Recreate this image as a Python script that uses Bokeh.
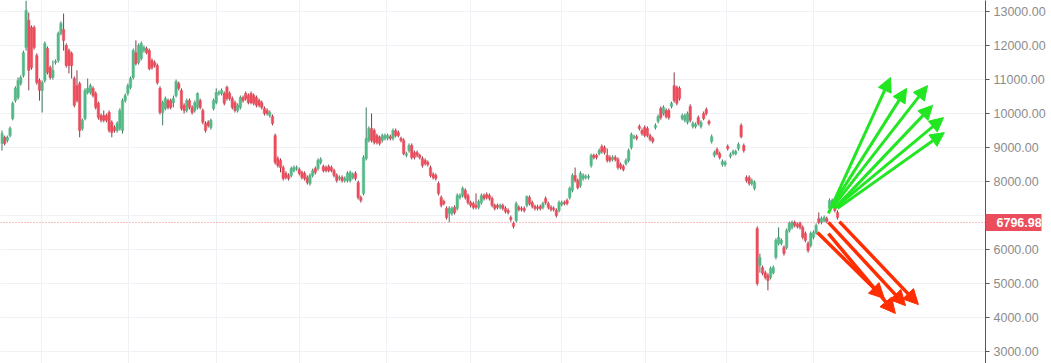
from bokeh.plotting import figure
from bokeh.models import (Range1d, LinearAxis, FixedTicker, NumeralTickFormatter, Grid,
                          Span, Arrow, NormalHead, ColumnDataSource, AllLabels)
from bokeh.embed import file_html
from bokeh.resources import INLINE

opens = [9120,9300,9210,9350,9850,10380,10470,10880,11120,11940,
12740,12530,12530,11710,10970,10680,10970,11910,11350,11060,
11500,11560,12350,12470,12000,11850,11770,11030,10820,10880,
9560,9850,10620,10620,10740,10590,10300,9940,9940,9940,
10030,9740,9590,9500,9560,9500,10380,10590,10770,11060,
11790,11500,11620,11850,11910,11850,11560,11500,11410,10740,
10030,10150,10380,10380,10320,10530,10880,10680,10240,10090,
10380,10180,10090,10180,10380,10090,9710,9740,9590,10150,
10320,10590,10590,10590,10770,10590,10440,10320,10090,10180,
10470,10590,10530,10590,10530,10470,10380,10320,10150,10090,
9940,9910,9350,8680,8620,8410,8240,8180,8180,8320,
8380,8350,8270,8240,8120,7940,8180,8380,8380,8560,
8440,8410,8440,8410,8320,8180,8090,8120,8030,8030,
8030,8120,8240,7970,7530,7650,8680,9210,9560,9500,
9350,9300,9210,9270,9270,9320,9270,9500,9440,9270,
9210,8770,8910,9060,8850,8850,8770,8680,8620,8560,
8410,8210,8180,7940,7530,7410,7210,7060,7060,7240,
7210,7530,7590,7740,7590,7380,7350,7300,7240,7380,
7590,7620,7590,7500,7300,7300,7240,7300,7210,7150,
6940,6770,6850,7240,7210,7210,7300,7530,7380,7270,
7240,7270,7240,7500,7350,7240,7210,7150,7150,7320,
7380,7440,7530,7740,8180,8030,7880,8090,8120,8120,
8470,8770,8770,8820,9030,9000,8770,8710,8650,8710,
8650,8500,8440,8530,8620,9000,9300,9320,9620,9500,
9590,9560,9350,9270,9590,9770,10150,10000,10090,10090,
10210,10820,10770,10740,9850,9800,9740,10210,9620,9620,
9880,9620,10000,10120,9770,9180,8770,8940,8820,8500,
8500,9030,8740,8820,8820,8970,9650,9060,8120,8120,
7940,7800,6620,5530,5470,5320,5240,5180,5320,5770,
6180,6180,6060,6060,6560,6650,6800,6740,6770,6650,
6470,6180,6120,6360,6500,6910,6800,6850,6910,7210,
7300,7300,7090]

highs = [9500,9350,9350,9620,10350,10800,11060,11120,11850,13320,
12970,12590,12590,11770,11030,10970,12120,11970,11410,11560,
11590,12410,12710,12940,12060,11910,11820,11090,11270,10940,
9850,10740,11030,10880,10800,10650,10350,10000,10090,10000,
10090,9800,9650,9770,10150,10440,10590,10880,11090,11910,
12150,12060,12120,12000,11970,11910,11620,11560,11470,10800,
10380,10500,10440,10440,10530,11000,10940,10740,10300,10440,
10440,10240,10380,10620,10440,10150,9770,9800,9850,10440,
10740,10680,10740,10650,10820,10650,10500,10380,10300,10530,
10530,10650,10590,10650,10590,10530,10440,10380,10210,10150,
10090,9970,9410,8740,8680,8470,8300,8240,8440,8470,
8470,8410,8320,8300,8180,8240,8380,8440,8680,8710,
8500,8470,8500,8470,8380,8240,8180,8180,8150,8300,
8320,8270,8300,8030,7590,8770,10180,9620,10000,9560,
9410,9350,9410,9410,9410,9380,9560,9560,9500,9320,
9270,8880,9120,9120,8910,8910,8820,8740,8680,8620,
8470,8270,8240,8000,7590,7470,7270,7270,7270,7300,
7650,7650,7850,7800,7650,7440,7410,7650,7470,7650,
7650,7680,7650,7560,7350,7350,7350,7350,7270,7210,
7000,6820,7410,7300,7270,7270,7590,7590,7440,7320,
7320,7320,7410,7560,7410,7300,7270,7210,7440,7440,
7440,7500,7850,8240,8410,8090,8300,8240,8210,8210,
8820,8820,8820,8970,9090,9060,8970,8770,8770,8770,
8710,8560,8500,8680,8970,9440,9380,9380,9680,9560,
9650,9620,9410,9320,9710,9970,10210,10240,10150,10150,
10350,11210,10820,10800,10000,10000,10060,10270,9770,9740,
9940,9800,10060,10180,9820,9380,8910,9000,8880,8650,
8620,9090,8850,8940,8940,9150,9710,9120,8180,8180,
8090,8030,6680,5880,5530,5380,5300,5500,5530,6330,
6650,6330,6120,6620,6820,6850,6850,6800,6820,6710,
6530,6240,6530,6560,6770,7090,6970,7000,6970,7500,
7500,7350,7150]

lows = [8910,9060,9150,9300,9800,10320,10410,10820,11060,11850,
10680,11290,11880,10850,10380,10030,10910,11150,11000,11000,
11440,11500,12300,11850,11350,11180,11030,10180,10320,9300,
9500,9800,10560,10560,10470,10120,9820,9740,9740,9740,
9440,9300,9440,9440,9500,9410,10320,10530,10710,11000,
11410,11440,11560,11790,11740,11270,11290,11350,10850,9970,
9650,10090,10120,10120,10180,10470,10680,10090,10000,10030,
10120,9970,10030,10120,10120,9680,9440,9590,9530,10090,
10270,10530,10530,10240,10380,10380,10120,10030,10030,10120,
10320,10380,10270,10270,10240,10180,10180,10120,9940,9940,
9880,9650,8500,8410,8270,8030,8060,8030,8120,8270,
8320,8180,8060,8030,7910,7880,8120,8210,8320,8500,
8270,8270,8270,8270,8120,7970,8030,7970,7970,7970,
7970,8060,8030,7470,7380,7590,8620,9150,9150,9090,
9090,9060,9150,9210,9210,9210,9210,9300,9300,9150,
8770,8710,8850,8650,8650,8710,8650,8410,8470,8440,
8120,8060,8030,7590,7240,7300,6880,6800,7000,7030,
7150,7470,7530,7470,7320,7240,7180,7180,7180,7320,
7440,7470,7440,7240,7150,7180,7180,7150,7060,7030,
6820,6620,6800,7120,7120,7090,7240,7300,7210,7150,
7150,7150,7180,7320,7180,7120,7120,6940,7090,7270,
7300,7300,7470,7680,7970,7770,7820,8030,8060,8060,
8410,8650,8650,8770,8820,8790,8560,8560,8590,8590,
8350,8350,8300,8470,8560,8940,9240,9210,9500,9350,
9300,9300,9180,9120,9530,9710,9820,9940,9850,9820,
10150,10320,10240,10380,9800,9740,9680,9740,9560,9560,
9650,9560,9800,9940,9650,9120,8710,8770,8650,8440,
8440,8910,8680,8770,8770,8910,9270,8850,7970,7880,
7880,7740,4940,5320,5240,5120,4800,5120,5270,5710,
6120,6120,5820,6000,6500,6590,6650,6620,6590,6300,
6210,5910,6060,6300,6440,6740,6740,6800,6770,7150,
7240,7090,6880]

closes = [9410,9120,9300,9560,10300,10740,10970,11060,11790,13030,
11270,11350,11940,10910,10680,10910,12060,11210,11060,11270,
11530,12350,12650,12150,11410,11410,11410,10240,10380,9500,
9800,10680,10740,10820,10530,10180,9880,9800,9800,9800,
9500,9440,9500,9710,10090,10380,10530,10820,11030,11850,
11470,12000,12060,11940,11790,11320,11350,11410,10910,10030,
10320,10440,10180,10180,10440,10940,10740,10150,10090,10380,
10180,10030,10320,10590,10180,9740,9500,9650,9800,10380,
10620,10620,10680,10300,10440,10440,10180,10090,10240,10470,
10380,10440,10320,10320,10300,10240,10240,10180,10000,10000,
10030,9710,8560,8470,8410,8090,8120,8090,8380,8410,
8410,8240,8120,8090,7970,8180,8320,8270,8620,8650,
8320,8320,8320,8320,8180,8030,8120,8030,8090,8240,
8270,8210,8090,7530,7440,8710,9270,9560,9210,9150,
9150,9120,9350,9350,9350,9270,9500,9350,9350,9210,
8820,8820,9060,8710,8710,8770,8710,8470,8530,8500,
8180,8120,8090,7650,7300,7350,6940,7210,7210,7090,
7590,7590,7800,7530,7380,7300,7240,7240,7410,7590,
7500,7530,7500,7300,7210,7240,7300,7210,7120,7090,
6880,6680,7350,7180,7180,7150,7560,7350,7270,7210,
7210,7210,7350,7380,7240,7180,7180,7000,7380,7380,
7350,7350,7800,8180,8030,7820,8240,8180,8150,8150,
8770,8710,8710,8910,8880,8850,8620,8620,8710,8650,
8410,8410,8350,8620,8910,9380,9320,9270,9560,9410,
9350,9350,9240,9180,9650,9910,9880,10180,9910,9880,
10300,10380,10300,10440,9940,9940,10000,9800,9710,9680,
9710,9740,9850,10000,9710,9320,8850,8820,8710,8590,
8560,8970,8790,8880,8880,9090,9320,8910,8030,7940,
8030,7970,5000,5770,5300,5180,5090,5440,5470,6270,
6360,6270,5880,6560,6770,6800,6710,6680,6650,6360,
6270,5970,6470,6500,6710,6800,6910,6940,6820,7440,
7440,7150,6940]

month_starts = [14.75, 47.2, 80.1, 111.1, 143.6, 174.9, 208.9, 240.3, 270.5, 303.0]
price_ticks = [3000, 4000, 5000, 6000, 7000, 8000, 9000, 10000, 11000, 12000, 13000]
last_price = 6796.98

# projection arrows: (start index, start price, end index, end price)
up_arrows = [(308.6, 7060, 331.8, 11060), (309.4, 7210, 337.8, 10740), (310.1, 7240, 345.6, 10820),
             (310.9, 7210, 347.5, 10240), (311.3, 7240, 351.6, 9880), (312.0, 7210, 351.9, 9440)]
down_arrows = [(304.5, 6500, 329.5, 4560), (308.6, 6470, 333.6, 4120), (308.6, 6800, 337.4, 4350),
               (312.7, 6820, 342.2, 4380)]

UP = "#53b987"
DOWN = "#eb4d5c"

n = len(closes)
idx = list(range(n))
is_up = [c >= o for o, c in zip(opens, closes)]
src = ColumnDataSource(dict(
    x=idx,
    top=[max(o, c) for o, c in zip(opens, closes)],
    bottom=[min(o, c) for o, c in zip(opens, closes)],
    high=highs, low=lows,
    color=[UP if u else DOWN for u in is_up],
    wick=["#3d7a5f" if u else "#8a3a45" for u in is_up],
))

p = figure(frame_width=985, frame_height=363, output_backend="svg", toolbar_location=None,
           x_range=Range1d(-0.56, 367.25), y_range=Range1d(2648, 13324),
           x_axis_location=None, y_axis_location=None,
           min_border_left=0, min_border_top=0, min_border_bottom=0, min_border_right=0)
p.outline_line_color = None
p.background_fill_color = "white"
p.border_fill_color = "white"
p.grid.visible = False

vgrid = Grid(dimension=0, ticker=FixedTicker(ticks=month_starts), grid_line_color="#eef1f6", grid_line_width=1)
hgrid = Grid(dimension=1, ticker=FixedTicker(ticks=price_ticks), grid_line_color="#eef1f6", grid_line_width=1)
p.add_layout(vgrid)
p.add_layout(hgrid)

# right price scale; the last-price tag block is drawn as the scale's marker at last_price
TAG_W = 56
yaxis = LinearAxis(ticker=FixedTicker(ticks=price_ticks, minor_ticks=[last_price]),
                   formatter=NumeralTickFormatter(format="0.00"),
                   major_label_policy=AllLabels(),
                   major_label_overrides={7000: ""})
yaxis.axis_line_color = "#555555"
yaxis.major_tick_line_color = "#555555"
yaxis.major_tick_out = 4
yaxis.major_tick_in = 0
yaxis.minor_tick_line_color = DOWN
yaxis.minor_tick_line_width = 17
yaxis.minor_tick_line_cap = "butt"
yaxis.minor_tick_out = TAG_W
yaxis.minor_tick_in = 0
yaxis.major_label_standoff = 8 - TAG_W
yaxis.major_label_text_color = "#8c8c8c"
yaxis.major_label_text_font = "Liberation Sans"
yaxis.major_label_text_font_size = "12.5px"
p.add_layout(yaxis, "right")

# last-price text, shifted back over the tag block
tag_axis = LinearAxis(ticker=FixedTicker(ticks=[last_price], minor_ticks=[]),
                      formatter=NumeralTickFormatter(format="0.00"), major_label_policy=AllLabels())
tag_axis.axis_line_color = None
tag_axis.major_tick_line_color = None
tag_axis.minor_tick_line_color = None
tag_axis.major_tick_out = 0
tag_axis.major_tick_in = 0
tag_axis.major_label_standoff = -52
tag_axis.major_label_text_color = "white"
tag_axis.major_label_text_font = "Liberation Sans"
tag_axis.major_label_text_font_style = "bold"
tag_axis.major_label_text_font_size = "12.5px"
p.add_layout(tag_axis, "right")

p.add_layout(Span(location=last_price, dimension="width", line_color=DOWN, line_alpha=0.75,
                  line_dash="1 2", line_width=1))

p.segment(x0="x", y0="low", x1="x", y1="high", line_color="wick", line_width=1, source=src)
p.vbar(x="x", width=0.9, top="top", bottom="bottom", fill_color="color", line_color="color",
       line_width=0.5, source=src)

for (xs, ys, xe, ye) in up_arrows:
    p.add_layout(Arrow(x_start=xs, y_start=ys, x_end=xe, y_end=ye, line_color="#22e622", line_width=3,
                       end=NormalHead(size=14, fill_color="#22e622", line_color="#22e622", line_width=1)))
for (xs, ys, xe, ye) in down_arrows:
    p.add_layout(Arrow(x_start=xs, y_start=ys, x_end=xe, y_end=ye, line_color="#ff2d00", line_width=3.5,
                       end=NormalHead(size=15, fill_color="#ff2d00", line_color="#ff2d00", line_width=1)))

open("out.html", "w").write(file_html(p, INLINE))
